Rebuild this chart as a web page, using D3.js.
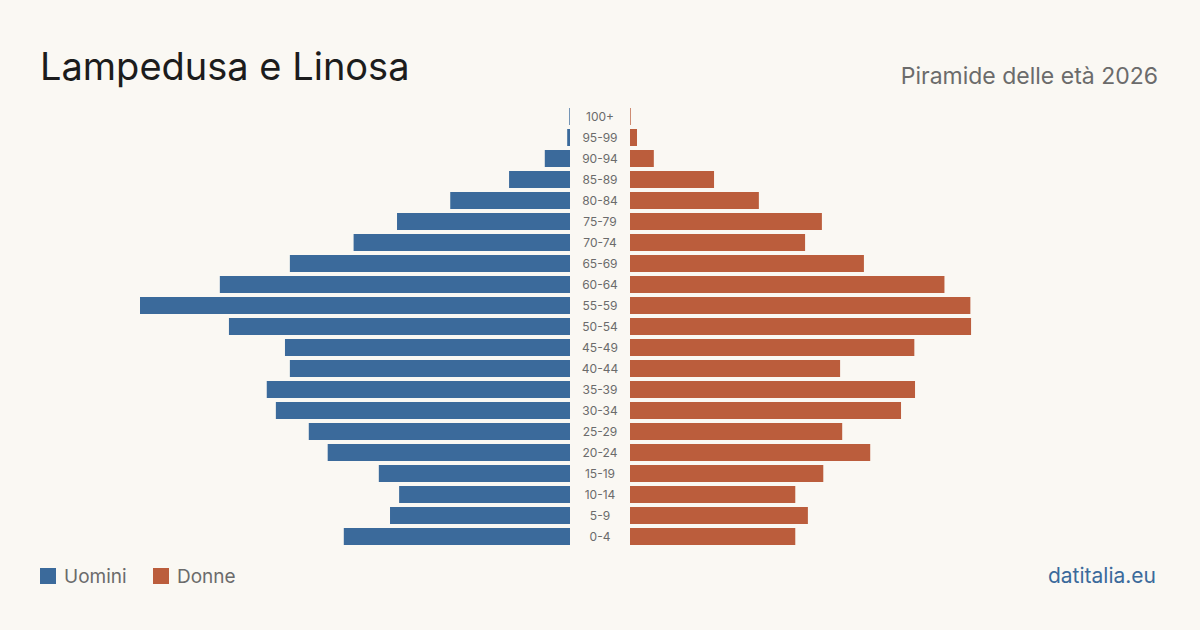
<!DOCTYPE html>
<html lang="it">
<head>
<meta charset="utf-8">
<title>Lampedusa e Linosa - Piramide delle età 2026</title>
<script src="https://d3js.org/d3.v7.min.js"></script>
<style>
  html, body { margin: 0; padding: 0; background: #faf8f3; }
  svg { display: block; font-family: Inter, "Noto Sans", sans-serif; }
</style>
</head>
<body>
<svg id="chart" width="1200" height="630"></svg>
<script>
// age classes, top to bottom
var ages = ['100+', '95-99', '90-94', '85-89', '80-84', '75-79', '70-74', '65-69', '60-64', '55-59',
            '50-54', '45-49', '40-44', '35-39', '30-34', '25-29', '20-24', '15-19', '10-14', '5-9', '0-4'];

// residents by age class
var uomini = [1, 4, 36, 87, 171, 247, 309, 400, 500, 614,
              487, 407, 400, 433, 420, 373, 346, 273, 244, 257, 323];
var donne  = [1, 10, 34, 120, 184, 274, 250, 334, 449, 486,
              487, 406, 300, 407, 387, 303, 343, 276, 236, 254, 236];

var colUomini = '#3b6a9b';
var colDonne = '#bb5d3c';

var svg = d3.select('#chart');

var center = 600, gap = 30, maxLen = 430;
var barsTop = 108, step = 21, barH = 17;

var maxVal = d3.max(uomini.concat(donne));

var x = d3.scaleLinear()
    .domain([0, maxVal])
    .range([0, maxLen]);

var y = d3.scaleBand()
    .domain(ages)
    .range([barsTop - (step - barH) / 2, barsTop - (step - barH) / 2 + step * ages.length])
    .paddingInner((step - barH) / step)
    .paddingOuter((step - barH) / step / 2);

// title
svg.append('text')
    .attr('x', 40).attr('y', 80)
    .attr('font-size', 38)
    .attr('fill', '#1c1c1c')
    .text('Lampedusa e Linosa');

svg.append('text')
    .attr('x', 1158).attr('y', 84)
    .attr('text-anchor', 'end')
    .attr('font-size', 23)
    .attr('fill', '#6b6b6b')
    .text('Piramide delle età 2026');

// male bars, to the left
svg.append('g').selectAll('rect')
    .data(ages)
    .enter().append('rect')
    .attr('x', function(d, i) { return center - gap - x(uomini[i]); })
    .attr('y', function(d) { return y(d); })
    .attr('width', function(d, i) { return x(uomini[i]); })
    .attr('height', y.bandwidth())
    .attr('fill', colUomini);

// female bars, to the right
svg.append('g').selectAll('rect')
    .data(ages)
    .enter().append('rect')
    .attr('x', center + gap)
    .attr('y', function(d) { return y(d); })
    .attr('width', function(d, i) { return x(donne[i]); })
    .attr('height', y.bandwidth())
    .attr('fill', colDonne);

// age labels in the middle
svg.append('g').selectAll('text')
    .data(ages)
    .enter().append('text')
    .attr('x', center)
    .attr('y', function(d) { return y(d) + y.bandwidth() / 2; })
    .attr('dy', '0.35em')
    .attr('text-anchor', 'middle')
    .attr('font-size', 12)
    .attr('fill', '#6b6b6b')
    .text(function(d) { return d; });

// legend
var legend = [{label: 'Uomini', color: colUomini, x: 40}, {label: 'Donne', color: colDonne, x: 153}];
var lg = svg.append('g').selectAll('g')
    .data(legend)
    .enter().append('g')
    .attr('transform', function(d) { return 'translate(' + d.x + ',568)'; });
lg.append('rect')
    .attr('width', 16).attr('height', 16)
    .attr('fill', function(d) { return d.color; });
lg.append('text')
    .attr('x', 24).attr('y', 8)
    .attr('dy', '0.35em')
    .attr('font-size', 19)
    .attr('fill', '#6b6b6b')
    .text(function(d) { return d.label; });

// source
svg.append('text')
    .attr('x', 1156).attr('y', 583)
    .attr('text-anchor', 'end')
    .attr('font-size', 21)
    .attr('fill', colUomini)
    .text('datitalia.eu');
</script>
</body>
</html>
